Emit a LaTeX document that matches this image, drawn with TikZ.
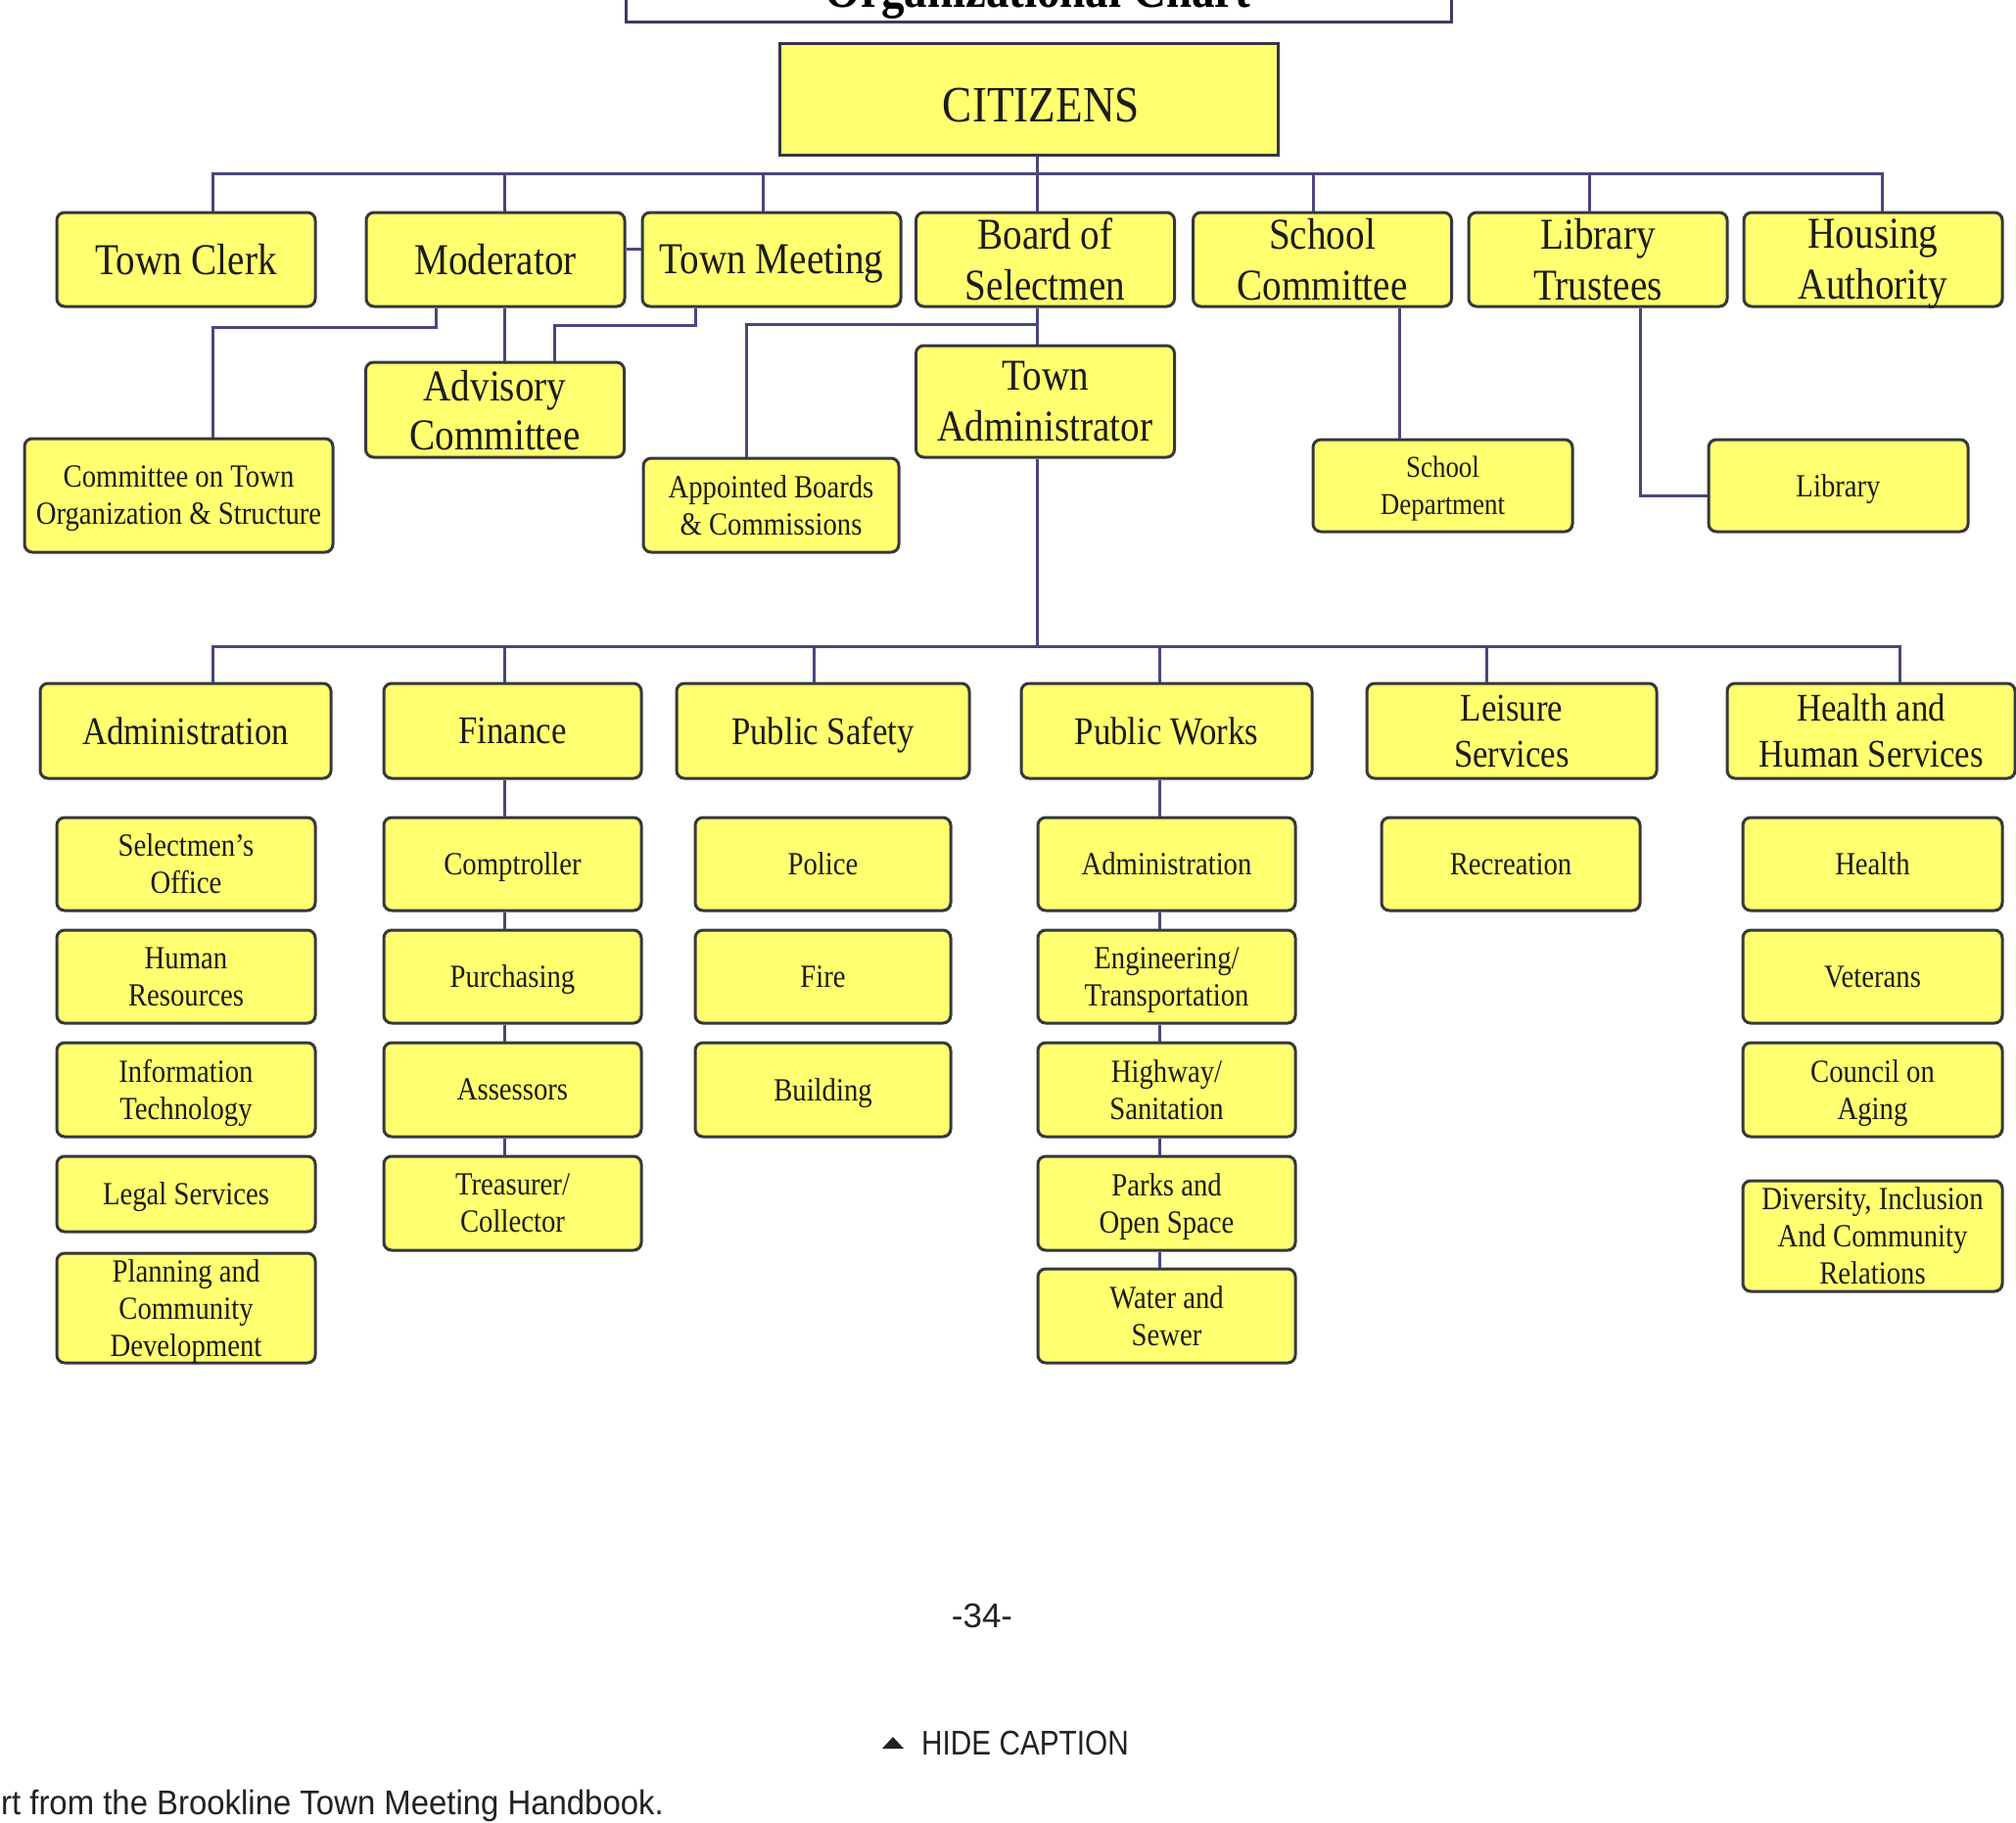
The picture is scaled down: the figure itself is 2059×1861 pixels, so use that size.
\documentclass[tikz,border=0pt]{standalone}
\usepackage{fontspec}
\setmainfont{Liberation Serif}[FakeStretch=0.87]
\newfontfamily\capfont{Liberation Sans}[FakeStretch=0.85]
\newfontfamily\creditfont{Liberation Sans}[FakeStretch=0.94]
\newfontfamily\pagefont{Liberation Sans}
\usepackage{tikz}
\usetikzlibrary{calc}
\usepackage{xcolor}
\definecolor{boxfill}{RGB}{255, 255, 112}
\definecolor{boxline}{RGB}{55, 55, 62}
\definecolor{linkcol}{RGB}{72, 72, 125}
\definecolor{titleline}{RGB}{60, 60, 100}
\definecolor{boxtext}{RGB}{28, 28, 24}
\definecolor{captext}{RGB}{34, 34, 34}

\begin{document}
\begin{tikzpicture}[x=1pt, y=-1pt,
  unit/.style={draw=boxline, fill=boxfill, line width=3pt, rounded corners=8pt,
    inner sep=0pt, align=center, text=boxtext, text depth=0pt},
  office/.style={unit, font=\fontsize{45}{52}\selectfont, minimum width=264, minimum height=96},
  dept/.style={unit, font=\fontsize{40}{47}\selectfont, minimum height=97},
  sub/.style={unit, font=\fontsize{33}{38}\selectfont},
  link/.style={draw=linkcol, line width=3pt}]
  \useasboundingbox (0,0) rectangle (2059,1861);
  \clip (0,0) rectangle (2059,1861);
  \fill[white] (0,0) rectangle (2059,1861);

  % title, cut off at the top
  \draw[titleline, line width=3pt, fill=white] (639,-80) rectangle (1482,22);
  \node[anchor=base, inner sep=0pt, font=\bfseries\fontsize{54}{60}\selectfont] (title) at (1060,7) {Organizational Chart};

  % elected level
  \node[unit, rounded corners=0pt, minimum width=509, minimum height=114,
    label={[font=\fontsize{52}{60}\selectfont, text=boxtext, xshift=13pt, yshift=-7pt]center:CITIZENS}] (citizens) at (1050.5,101) {};

  \node[office] (clerk) at (190,265) {Town Clerk};
  \node[office] (moderator) at (506,265) {Moderator};
  \node[office] (meeting) at (788,265) {Town Meeting};
  \node[office] (selectmen) at (1067.5,265) {Board of\\Selectmen};
  \node[office] (schoolcom) at (1350.5,265) {School\\Committee};
  \node[office] (trustees) at (1632,265) {Library\\Trustees};
  \node[office] (housing) at (1913,265) {Housing\\Authority};

  \node[sub, minimum width=315, minimum height=116] (cots) at (182.5,506) {Committee on Town\\Organization \& Structure};
  \node[office, font=\fontsize{45}{50}\selectfont, minimum height=97] (advisory) at (505.5,418.5) {Advisory\\Committee};
  \node[sub, minimum width=261, minimum height=96] (appointed) at (787.5,516) {Appointed Boards\\\& Commissions};
  \node[office, minimum height=114] (townadmin) at (1067.5,410) {Town\\Administrator};
  \node[sub, font=\fontsize{31}{38}\selectfont, minimum width=265, minimum height=94] (schooldept) at (1473.5,496) {School\\Department};
  \node[sub, minimum width=265, minimum height=94] (library) at (1877.5,496) {Library};

  % departments
  \node[dept, minimum width=297] (admin) at (189.5,746.5) {Administration};
  \node[dept, minimum width=263] (finance) at (523.5,746.5) {Finance};
  \node[dept, minimum width=299] (safety) at (840.5,746.5) {Public Safety};
  \node[dept, minimum width=297] (works) at (1191.5,746.5) {Public Works};
  \node[dept, minimum width=296] (leisure) at (1544,746.5) {Leisure\\Services};
  \node[dept, minimum width=294] (hhs) at (1911,746.5) {Health and\\Human Services};

  % divisions
  \node[sub, minimum width=264, minimum height=95] (seloffice) at (190,882.5) {Selectmen’s\\Office};
  \node[sub, minimum width=264, minimum height=95] (hr) at (190,997.5) {Human\\Resources};
  \node[sub, minimum width=264, minimum height=96] (infotech) at (190,1113) {Information\\Technology};
  \node[sub, minimum width=264, minimum height=77] (legal) at (190,1219.5) {Legal Services};
  \node[sub, font=\fontsize{33}{38}\selectfont, minimum width=264, minimum height=112] (planning) at (190,1336) {Planning and\\Community\\Development};

  \node[sub, minimum width=263, minimum height=95] (comptroller) at (523.5,882.5) {Comptroller};
  \node[sub, minimum width=263, minimum height=95] (purchasing) at (523.5,997.5) {Purchasing};
  \node[sub, minimum width=263, minimum height=96] (assessors) at (523.5,1113) {Assessors};
  \node[sub, minimum width=263, minimum height=96] (treasurer) at (523.5,1229) {Treasurer/\\Collector};

  \node[sub, minimum width=261, minimum height=95] (police) at (840.5,882.5) {Police};
  \node[sub, minimum width=261, minimum height=95] (fire) at (840.5,997.5) {Fire};
  \node[sub, minimum width=261, minimum height=96] (building) at (840.5,1113) {Building};

  \node[sub, minimum width=263, minimum height=95] (worksadmin) at (1191.5,882.5) {Administration};
  \node[sub, minimum width=263, minimum height=95] (engineering) at (1191.5,997.5) {Engineering/\\Transportation};
  \node[sub, minimum width=263, minimum height=96] (highway) at (1191.5,1113) {Highway/\\Sanitation};
  \node[sub, minimum width=263, minimum height=96] (parks) at (1191.5,1229) {Parks and\\Open Space};
  \node[sub, minimum width=263, minimum height=96] (water) at (1191.5,1344) {Water and\\Sewer};

  \node[sub, minimum width=264, minimum height=95] (recreation) at (1543,882.5) {Recreation};

  \node[sub, minimum width=265, minimum height=95] (health) at (1912.5,882.5) {Health};
  \node[sub, minimum width=265, minimum height=95] (veterans) at (1912.5,997.5) {Veterans};
  \node[sub, minimum width=265, minimum height=96] (aging) at (1912.5,1113) {Council on\\Aging};
  \node[sub, minimum width=265, minimum height=113] (diversity) at (1912.5,1262.5) {Diversity, Inclusion\\And Community\\Relations};

  % connectors, upper part
  \coordinate (busA) at (217,177);
  \coordinate (busB) at (1922,177);
  \draw[link] (busA) -- (busB);
  \draw[link] ([xshift=27]clerk.north) -- ++(0,-40);
  \draw[link] ([xshift=9]moderator.north) -- ++(0,-40);
  \draw[link] ([xshift=-9]meeting.north) -- ++(0,-40);
  \draw[link] ([xshift=-9.5]schoolcom.north) -- ++(0,-40);
  \draw[link] ([xshift=-9]trustees.north) -- ++(0,-40);
  \draw[link] ([xshift=9]housing.north) -- ++(0,-40);
  \draw[link] ([xshift=8.5]citizens.south) -- ([xshift=-8.5]selectmen.north);
  \draw[link] ([xshift=-8.5]selectmen.south) -- ([xshift=-8.5]townadmin.north);
  \draw[link] ([yshift=11]moderator.east) -- ([yshift=11]meeting.west);
  \draw[link] ([xshift=-61]moderator.south) -- ++(0,20) -| ([xshift=34.5]cots.north);
  \draw[link] ([xshift=9]moderator.south) -- ([xshift=9.5]advisory.north);
  \draw[link] ([xshift=-78]meeting.south) -- ++(0,18) -| ([xshift=60.5]advisory.north);
  \coordinate (tap) at (1059,331);
  \draw[link] (tap) -| ([xshift=-25.5]appointed.north);
  \draw[link] ([xshift=78.5]schoolcom.south) -- ([xshift=-44.5]schooldept.north);
  \draw[link] ([xshift=43]trustees.south) |- ([yshift=-10]library.west);

  % connectors, lower part
  \coordinate (busC) at (217,660);
  \coordinate (busD) at (1940,660);
  \draw[link] ([xshift=-8.5]townadmin.south) -- ++(0,193);
  \draw[link] (busC) -- (busD);
  \draw[link] ([xshift=27.5]admin.north) -- ++(0,-38);
  \draw[link] ([xshift=-8.5]finance.north) -- ++(0,-38);
  \draw[link] ([xshift=-9.5]safety.north) -- ++(0,-38);
  \draw[link] ([xshift=-7.5]works.north) -- ++(0,-38);
  \draw[link] ([xshift=-26]leisure.north) -- ++(0,-38);
  \draw[link] ([xshift=29]hhs.north) -- ++(0,-38);
  \draw[link] ([xshift=-8.5]finance.south) -- ([xshift=-8.5]comptroller.north);
  \draw[link] ([xshift=-8.5]comptroller.south) -- ([xshift=-8.5]purchasing.north);
  \draw[link] ([xshift=-8.5]purchasing.south) -- ([xshift=-8.5]assessors.north);
  \draw[link] ([xshift=-8.5]assessors.south) -- ([xshift=-8.5]treasurer.north);
  \draw[link] ([xshift=-7.5]works.south) -- ([xshift=-7.5]worksadmin.north);
  \draw[link] ([xshift=-7.5]worksadmin.south) -- ([xshift=-7.5]engineering.north);
  \draw[link] ([xshift=-7.5]engineering.south) -- ([xshift=-7.5]highway.north);
  \draw[link] ([xshift=-7.5]highway.south) -- ([xshift=-7.5]parks.north);
  \draw[link] ([xshift=-7.5]parks.south) -- ([xshift=-7.5]water.north);

  % page number and web caption
  \node[font=\pagefont\fontsize{35}{40}\selectfont, text=captext] (pagenum) at (1003,1650) {-34-};
  \fill[captext] (901,1786) -- (923,1786) -- (912,1774) -- cycle;
  \node[anchor=west, inner sep=0pt, font=\capfont\fontsize{35}{40}\selectfont, text=captext] (hide) at (941,1780) {HIDE CAPTION};
  \node[anchor=base east, inner sep=0pt, font=\creditfont\fontsize{35}{40}\selectfont, text=captext] (credit) at (678,1853) {rt from the Brookline Town Meeting Handbook.};
\end{tikzpicture}
\end{document}
